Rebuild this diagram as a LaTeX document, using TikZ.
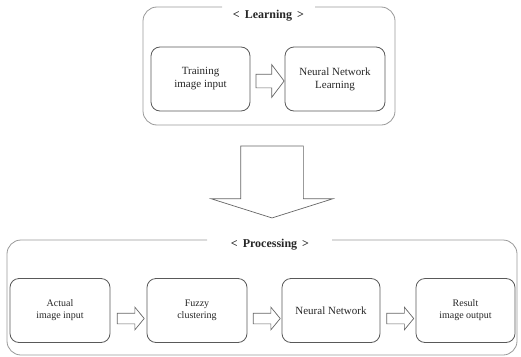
\documentclass[tikz,border=0pt]{standalone}
\usepackage{fontspec}
\setmainfont{Liberation Serif}
\usetikzlibrary{shapes.arrows,calc}
\tikzset{
  outerline/.style={draw=black!40, line width=0.8pt, rounded corners=14pt},
  innerbox/.style={draw=black!65, line width=0.8pt, rounded corners=9pt, align=center,
     text=black!85, minimum height=64pt, inner sep=2pt},
  title/.style={font=\fontsize{12}{14}\selectfont\bfseries, text=black!85},
  blockarrow/.style={single arrow, draw=black!60, line width=0.7pt, fill=white, inner xsep=0pt, outer sep=0pt},
  smallarrow/.style={blockarrow, inner ysep=6.5pt, single arrow head extend=9.5pt,
     minimum height=28pt, single arrow tip angle=106},
  tinyarrow/.style={blockarrow, inner ysep=5pt, single arrow head extend=6pt,
     minimum height=27pt, single arrow tip angle=101},
  lfont/.style={font=\fontsize{11}{13}\selectfont},
  pfont/.style={font=\fontsize{10}{12}\selectfont},
}
\begin{document}
\begin{tikzpicture}[x=1pt,y=-1pt]
\useasboundingbox (0,0) rectangle (521,356);
% Learning group
\coordinate (lrnS) at (272,125);
\draw[outerline] (222,7) -- (143,7) -- (143,125) -- (395,125) -- (395,7) -- (315,7);
\node[title] (lrnT) at (268.5,16) {<\ \,Learning\ \,>};
\node[innerbox, lfont, minimum width=99pt] (tr) at (200.5,79) {Training\\image input};
\node[innerbox, lfont, minimum width=100pt] (nnl) at (335,79) {Neural Network\\Learning};
\node[smallarrow] (a0) at ($(tr.east)!0.5!(nnl.west)+(0,2)$) {};
% big arrow
\node[blockarrow, rotate=-90, inner ysep=31pt, single arrow head extend=29.5pt,
      minimum height=72pt, single arrow tip angle=145] (big) at (272,177) {};
% Processing group
\coordinate (prcN) at (272,240);
\draw[outerline] (207,240) -- (7,240) -- (7,355) -- (517,355) -- (517,240) -- (332,240);
\node[title] (prcT) at (270,245) {<\ \,Processing\ \,>};
\node[innerbox, pfont, minimum width=100pt] (ai) at (60,310.5) {Actual\\image input};
\node[innerbox, pfont, minimum width=100pt] (fc) at (197,310.5) {Fuzzy\\clustering};
\node[innerbox, lfont, minimum width=98pt] (nn) at (331,310.5) {Neural Network};
\node[innerbox, pfont, minimum width=99pt] (ro) at (465.5,310.5) {Result\\image output};
\node[tinyarrow] (a1) at ($(ai.east)!0.5!(fc.west)+(0,8)$) {};
\node[tinyarrow] (a2) at ($(fc.east)!0.5!(nn.west)+(0,8)$) {};
\node[tinyarrow] (a3) at ($(nn.east)!0.5!(ro.west)+(0,8)$) {};
\end{tikzpicture}
\end{document}
